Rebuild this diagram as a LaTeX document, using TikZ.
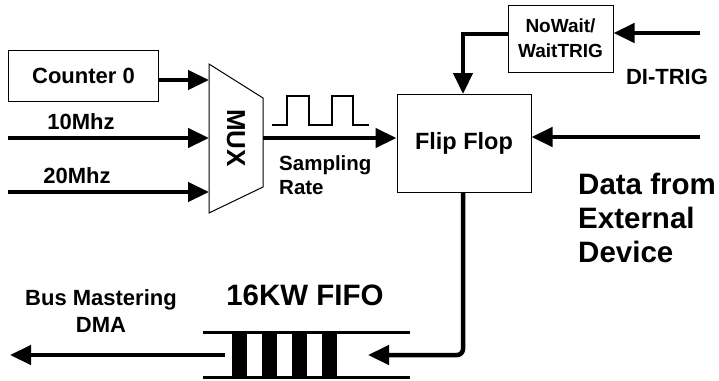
\documentclass[tikz,border=0pt]{standalone}
\usepackage{fontspec}
\setmainfont{Liberation Sans}
\usetikzlibrary{arrows.meta}
\tikzset{
  box/.style={draw, line width=1pt, inner sep=0pt},
  sig/.style={line width=4.5pt, -{Triangle[length=21pt,width=19pt]}},
  wire/.style={line width=4.5pt},
  lbl/.style={font=\bfseries\fontsize{22}{26.5}\selectfont, inner sep=0pt},
  biglbl/.style={font=\bfseries\fontsize{29.5}{34}\selectfont, inner sep=0pt},
}
\begin{document}
\begin{tikzpicture}[x=1pt,y=-1pt]
\useasboundingbox (0,0) rectangle (719,380);
% boxes
\node[box, minimum width=150pt, minimum height=51pt, lbl] (counter) at (83.5,76) {Counter 0};
\node[box, minimum width=134pt, minimum height=98pt, font=\bfseries\fontsize{23.5}{27}\selectfont] (ff) at (464,143) {Flip Flop};
\node[box, minimum width=105pt, minimum height=67pt, align=center, font=\bfseries\fontsize{19}{25}\selectfont] (nw) at (560.5,38.5) {NoWait/\\WaitTRIG};
% MUX
\draw[line width=1pt] (209,64) -- (263,98) -- (263,187) -- (209,213) -- cycle;
\node[rotate=-90, font=\bfseries\fontsize{26}{26}\selectfont, inner sep=0pt] (muxlbl) at (236,138) {MUX};
\coordinate (mA) at (209,80);
\coordinate (mB) at (209,138);
\coordinate (mC) at (209,192);
\coordinate (mOut) at (263,138);
% inputs
\coordinate (in10) at (8,138);
\coordinate (in20) at (8,192);
\draw[sig] (counter.east |- mA) -- (mA);
\draw[sig] (in10) -- (mB);
\draw[sig] (in20) -- (mC);
\node[lbl] (l10) at (81,122) {10Mhz};
\node[lbl] (l20) at (77,176) {20Mhz};
% sampling
\draw[sig] (mOut) -- (ff.west |- mOut);
\draw[line width=1.5pt] (272,125) -- (287,125) -- (287,96) -- (309,96) -- (309,125) -- (332,125) -- (332,96) -- (353,96) -- (353,125) -- (369,125);
\node[font=\bfseries\fontsize{20.5}{24}\selectfont, align=left, anchor=north west, inner sep=0pt] (samp) at (279,155) {Sampling\\Rate};
% trigger
\coordinate (di) at (700,33);
\draw[sig] (di) -- (nw.east |- di);
\node[lbl] (ldi) at (667,77) {DI-TRIG};
\coordinate (nwo) at (508,34);
\draw[sig] (nwo) -| (463,94);
% data
\coordinate (data) at (700,137);
\draw[sig] (data) -- (ff.east |- data);
\node[biglbl, align=left, anchor=north west] (ldata) at (578,173) {Data from\\External\\Device};
% FIFO
\coordinate (fifoIn) at (368,355);
\draw[sig, rounded corners=6pt] (463,192) |- (fifoIn);
\draw[line width=3pt] (203,332) -- (410,332);
\draw[line width=3pt] (203,377) -- (410,377);
\foreach \x in {232,262,292,322} {
  \fill (\x,332) rectangle ++(15,45);
}
\node[biglbl] (lfifo) at (305,295) {16KW FIFO};
\coordinate (fifoOut) at (225,355);
\coordinate (dma) at (10,355);
\draw[sig] (fifoOut) -- (dma);
\node[lbl, align=center] (ldma) at (101,311) {Bus Mastering\\DMA};
\end{tikzpicture}
\end{document}
